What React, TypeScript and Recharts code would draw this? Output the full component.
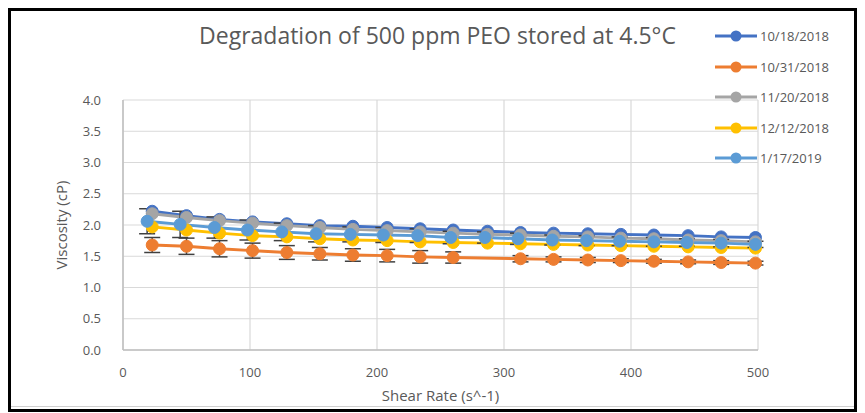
import React from 'react';
import {
  LineChart,
  Line,
  XAxis,
  YAxis,
  CartesianGrid,
  ErrorBar,
} from 'recharts';

// Shear rate readings (s^-1)
const shearA = [23, 50, 76, 102, 129, 155, 181, 208, 234, 260, 287, 313, 339, 366, 392, 418, 445, 471, 498];
const shearB = [19, 45, 72, 98, 125, 152, 179, 205, 232, 258, 285, 311, 338, 365, 391, 418, 444, 471, 498];
// 10/31 is missing the reading near 287
const shearC = [23, 50, 76, 102, 129, 155, 181, 208, 234, 260, 313, 339, 366, 392, 418, 445, 471, 498];

// Viscosity (cP)
const visc1018 = [2.22, 2.15, 2.09, 2.05, 2.02, 1.99, 1.98, 1.96, 1.94, 1.92, 1.9, 1.88, 1.87, 1.86, 1.85, 1.84, 1.83, 1.81, 1.8];
const visc1031 = [1.68, 1.66, 1.62, 1.59, 1.56, 1.54, 1.52, 1.51, 1.49, 1.48, 1.46, 1.45, 1.44, 1.43, 1.42, 1.41, 1.4, 1.39];
const visc1120 = [2.18, 2.12, 2.07, 2.03, 1.99, 1.96, 1.93, 1.91, 1.89, 1.87, 1.85, 1.84, 1.82, 1.81, 1.79, 1.78, 1.76, 1.75, 1.73];
const visc1212 = [1.97, 1.92, 1.87, 1.83, 1.81, 1.78, 1.76, 1.75, 1.73, 1.72, 1.71, 1.7, 1.69, 1.68, 1.67, 1.66, 1.65, 1.64, 1.63];
const visc0117 = [2.06, 2.01, 1.96, 1.92, 1.89, 1.86, 1.85, 1.84, 1.83, 1.8, 1.8, 1.78, 1.76, 1.75, 1.74, 1.73, 1.72, 1.71, 1.69];

// Standard deviations
const err1031 = [0.12, 0.13, 0.13, 0.12, 0.11, 0.1, 0.1, 0.1, 0.1, 0.09, 0.05, 0.04, 0.04, 0.03, 0.03, 0.03, 0.03, 0.03];
const err0117 = [0.2, 0.21, 0.17, 0.16, 0.14, 0.13, 0.12, 0.12, 0.11, 0.1, 0.09, 0.09, 0.08, 0.08, 0.07, 0.07, 0.06, 0.06, 0.05];

const xTicks = [0, 100, 200, 300, 400, 500];
const yTicks = [0, 0.5, 1, 1.5, 2, 2.5, 3, 3.5, 4];

const toRows = (xs: number[], ys: number[], errs?: number[]) =>
  xs.map((x, i) => ({ x, y: ys[i], err: errs ? errs[i] : 0 }));

const SERIES = [
  { name: '10/18/2018', color: '#4472C4', data: toRows(shearA, visc1018) },
  { name: '10/31/2018', color: '#ED7D31', data: toRows(shearC, visc1031, err1031), err: true },
  { name: '11/20/2018', color: '#A5A5A5', data: toRows(shearA, visc1120) },
  { name: '12/12/2018', color: '#FFC000', data: toRows(shearA, visc1212) },
  { name: '1/17/2019', color: '#5B9BD5', data: toRows(shearB, visc0117, err0117), err: true },
];

const FONT = '"Open Sans", "Liberation Sans", sans-serif';

function LegendBox() {
  return (
    <div
      style={{
        position: 'absolute',
        left: 715,
        top: 21,
        fontFamily: FONT,
        fontSize: 13,
        color: '#595959',
      }}
    >
      {SERIES.map((s) => (
        <div key={s.name} style={{ display: 'flex', alignItems: 'center', height: 30.5 }}>
          <svg width={42} height={14}>
            <line x1={0} y1={7} x2={42} y2={7} stroke={s.color} strokeWidth={3} />
            <circle cx={21} cy={7} r={5.5} fill={s.color} />
          </svg>
          <span style={{ marginLeft: 3 }}>{s.name}</span>
        </div>
      ))}
    </div>
  );
}

export default function App() {
  return (
    <div
      style={{
        position: 'relative',
        width: 865,
        height: 413,
        margin: '-8px -8px 0 -8px',
        background: '#fff',
      }}
    >
      <div style={{ position: 'absolute', left: 0, top: 0 }}>
        <LineChart
          width={865}
          height={413}
          margin={{ top: 100, right: 107, bottom: 0, left: 0 }}
        >
          <CartesianGrid stroke="#D9D9D9" strokeWidth={1.2} />
          <XAxis
            type="number"
            dataKey="x"
            domain={[0, 500]}
            ticks={xTicks}
            allowDuplicatedCategory={false}
            tickLine={false}
            axisLine={{ stroke: '#BFBFBF', strokeWidth: 1.5 }}
            tick={{ fill: '#595959', fontSize: 13, fontFamily: FONT }}
            tickMargin={12}
            height={63}
            label={{
              value: 'Shear Rate (s^-1)',
              position: 'insideBottom',
              offset: 12,
              fill: '#595959',
              fontSize: 15,
              fontFamily: FONT,
            }}
          />
          <YAxis
            type="number"
            domain={[0, 4]}
            ticks={yTicks}
            tickFormatter={(v: number) => v.toFixed(1)}
            tickLine={false}
            axisLine={{ stroke: '#BFBFBF', strokeWidth: 1.5 }}
            tick={{ fill: '#595959', fontSize: 13, fontFamily: FONT }}
            tickMargin={16}
            width={123}
            label={{
              value: 'Viscosity (cP)',
              angle: -90,
              position: 'insideLeft',
              offset: 62,
              style: { textAnchor: 'middle' },
              fill: '#595959',
              fontSize: 15,
              fontFamily: FONT,
            }}
          />
          {SERIES.map((s) => (
            <Line
              key={s.name}
              data={s.data}
              dataKey="y"
              name={s.name}
              stroke={s.color}
              strokeWidth={3}
              dot={{ r: 6, fill: s.color, stroke: s.color, strokeWidth: 1 }}
              activeDot={false}
              isAnimationActive={false}
            >
              {s.err && (
                <ErrorBar dataKey="err" width={8} stroke="#404040" strokeWidth={1.5} direction="y" />
              )}
            </Line>
          ))}
        </LineChart>
      </div>
      <div
        style={{
          position: 'absolute',
          left: 0,
          top: 19,
          width: 875,
          textAlign: 'center',
          fontFamily: FONT,
          fontSize: 23,
          color: '#595959',
        }}
      >
        Degradation of 500 ppm PEO stored at 4.5°C
      </div>
      <LegendBox />
      {/* outer frame, kept inside the visible area */}
      <svg
        width={865}
        height={413}
        style={{ position: 'absolute', left: 0, top: 0, pointerEvents: 'none' }}
      >
        <line x1={11} y1={406.5} x2={854} y2={406.5} stroke="#D0D0D0" strokeWidth={1} />
        <rect x={9.5} y={9.5} width={846} height={401} fill="none" stroke="#000" strokeWidth={3} />
      </svg>
    </div>
  );
}
